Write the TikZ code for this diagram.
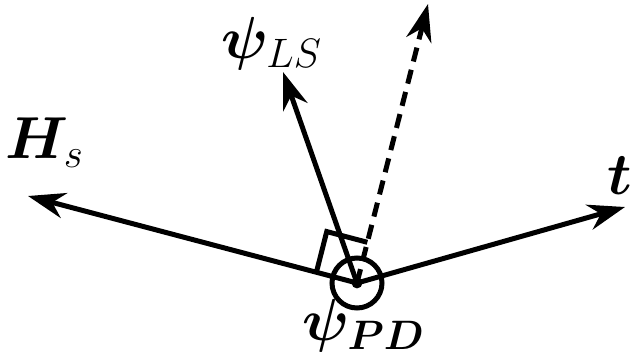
\documentclass[tikz,border=0pt]{standalone}
\usepackage{amsmath,amssymb,bm}
\usetikzlibrary{arrows.meta,calc}
\tikzset{
  vecln/.style={-{Stealth[length=13pt,width=9pt]}, line width=1.75pt},
  dashln/.style={vecln, dash pattern=on 5pt off 3pt},
  markln/.style={line width=1.75pt, line join=miter},
  lab/.style={font=\huge, inner sep=0pt},
}

\begin{document}
\begin{tikzpicture}[x=0.35pt,y=-0.35pt]
    \useasboundingbox (0,0) rectangle (631,354);
    \coordinate (o) at (357,283);
    \coordinate (hs) at (28,196);
    \coordinate (tt) at (625,207);
    \coordinate (ls) at (283,72);
    \coordinate (nn) at (428,4);
    % vectors
    \draw[vecln] (o) -- (hs);
    \draw[vecln] (o) -- (tt);
    \draw[vecln] (o) -- (ls);
    \draw[dashln] (o) -- (nn);
    % right angle mark
    \coordinate (ra) at ($(o)!14.7pt!(hs)$);
    \coordinate (rb) at ($(o)!14.7pt!(nn)$);
    \draw[markln] (ra) -- ($(ra)+(rb)-(o)$) -- (rb);
    % point
    \draw[markln] (o) circle[radius=8.75pt];
    \fill (o) circle[radius=1.9pt];
    % labels
    \node[lab] (hslab) at (45,143) {$\boldsymbol{H}_s$};
    \node[lab] (lslab) at (272,44) {$\boldsymbol{\psi}_{LS}$};
    \node[lab] (tlab) at (620,176) {$\boldsymbol{t}$};
    \node[lab] (pdlab) at (364,326) {$\boldsymbol{\psi}_{\boldsymbol{PD}}$};
\end{tikzpicture}
\end{document}
